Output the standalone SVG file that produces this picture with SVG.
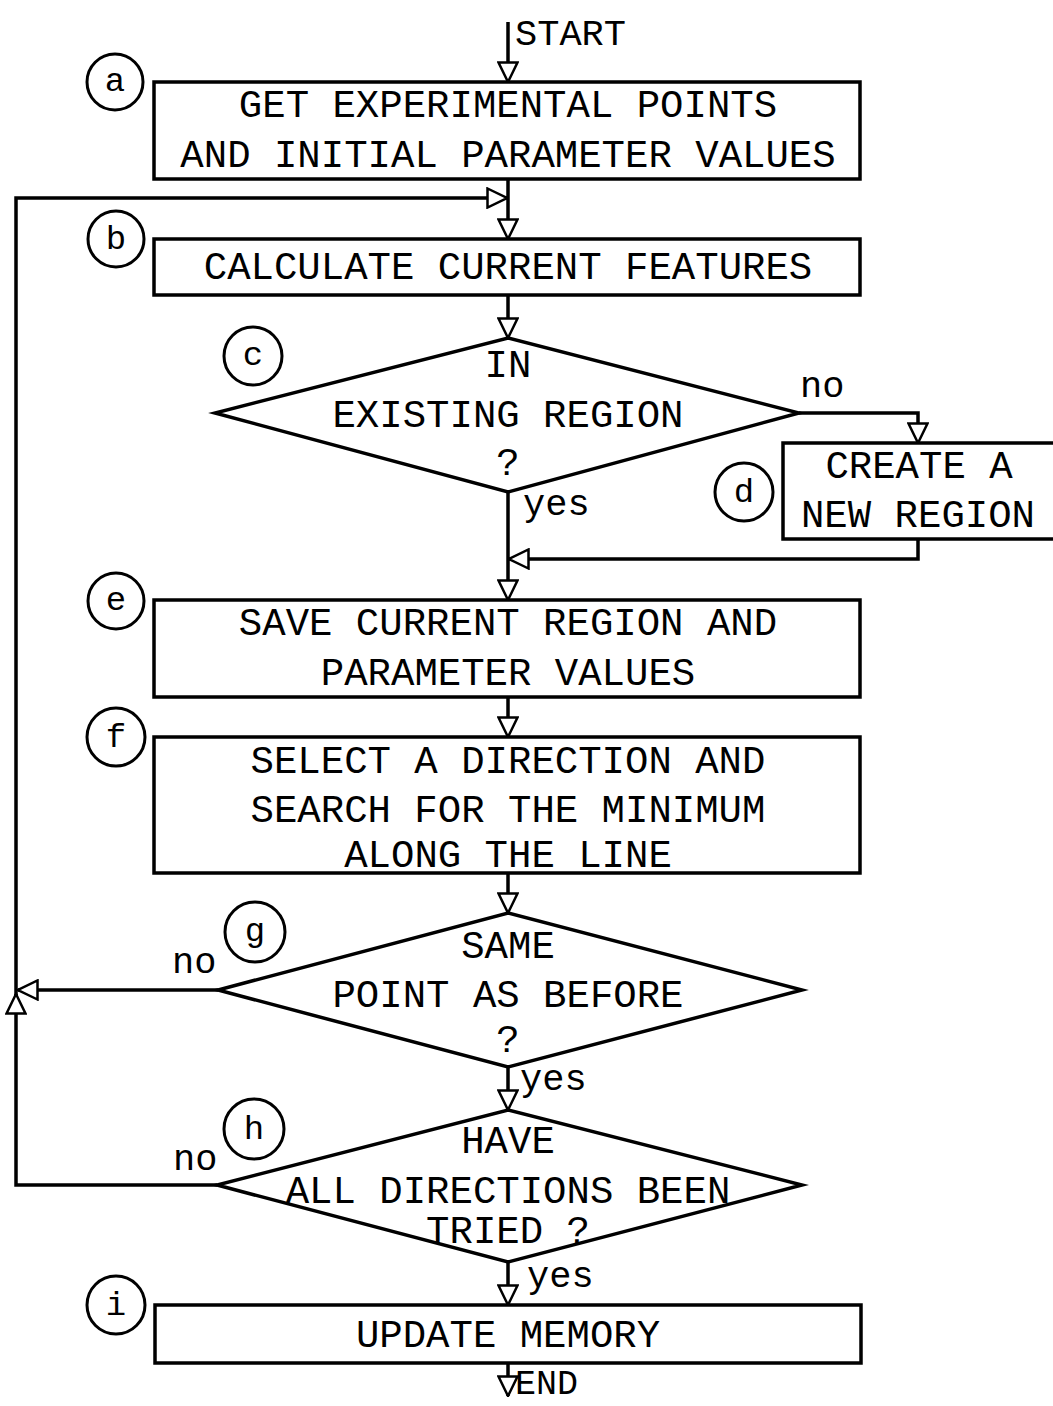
<svg xmlns="http://www.w3.org/2000/svg" width="1053" height="1406" viewBox="0 0 1053 1406">
<style>
.bg{fill:#fff}
.box{fill:#fff;stroke:#000;stroke-width:3.5}
.dia{fill:#fff;stroke:#000;stroke-width:3.5;stroke-linejoin:miter}
.circ{fill:#fff;stroke:#000;stroke-width:3}
.t{font-family:"Liberation Mono","DejaVu Sans Mono",monospace;font-size:39px;fill:#000;text-anchor:middle}
.s{font-family:"Liberation Mono","DejaVu Sans Mono",monospace;font-size:37px;fill:#000}
.c{font-family:"Liberation Mono","DejaVu Sans Mono",monospace;font-size:34px;fill:#000;text-anchor:middle}
.ln{fill:none;stroke:#000;stroke-width:3.5}
</style>
<defs>
<marker id="arr" viewBox="0 0 22 22" refX="21" refY="11" markerWidth="22" markerHeight="22" markerUnits="userSpaceOnUse" orient="auto">
<path d="M1.5,1.5 L21,11 L1.5,20.5 Z" fill="#fff" stroke="#000" stroke-width="2.5"/>
</marker>
</defs>
<rect class="bg" x="0" y="0" width="1053" height="1406"/>

<g id="connectors">
<path class="ln" d="M508,22 V82" marker-end="url(#arr)"/>
<path class="ln" d="M508,179 V239" marker-end="url(#arr)"/>
<path class="ln" d="M508,295 V338" marker-end="url(#arr)"/>
<path class="ln" d="M508,492 V600" marker-end="url(#arr)"/>
<path class="ln" d="M799,413 H918 V443" marker-end="url(#arr)"/>
<path class="ln" d="M918,539 V559 H509" marker-end="url(#arr)"/>
<path class="ln" d="M508,697 V737" marker-end="url(#arr)"/>
<path class="ln" d="M508,873 V913" marker-end="url(#arr)"/>
<path class="ln" d="M508,1067 V1110" marker-end="url(#arr)"/>
<path class="ln" d="M508,1262 V1305" marker-end="url(#arr)"/>
<path class="ln" d="M508,1363 V1396" marker-end="url(#arr)"/>
<path class="ln" d="M217,1185 H16 V994" marker-end="url(#arr)"/>
<path class="ln" d="M16,996 V198 H507" marker-end="url(#arr)"/>
<path class="ln" d="M218,990 H18" marker-end="url(#arr)"/>
<text class="s" x="515" y="45">START</text>
<text class="s" x="515" y="1394" style="font-size:35px">END</text>
<text class="s" x="800" y="397">no</text>
<text class="s" x="523" y="515">yes</text>
<text class="s" x="172" y="973">no</text>
<text class="s" x="520" y="1090">yes</text>
<text class="s" x="173" y="1170">no</text>
<text class="s" x="527" y="1287">yes</text>
</g>

<g id="node-a">
<rect class="box" x="154" y="82" width="706" height="97"/>
<text class="t" x="508" y="117">GET EXPERIMENTAL POINTS</text>
<text class="t" x="508" y="167">AND INITIAL PARAMETER VALUES</text>
<circle class="circ" cx="115" cy="82" r="28"/>
<text class="c" x="115" y="91">a</text>
</g>

<g id="node-b">
<rect class="box" x="154" y="239" width="706" height="56"/>
<text class="t" x="508" y="279">CALCULATE CURRENT FEATURES</text>
<circle class="circ" cx="116" cy="239" r="28"/>
<text class="c" x="116" y="249">b</text>
</g>

<g id="node-c">
<polygon class="dia" points="508,338 799,413 508,492 215,413"/>
<text class="t" x="508" y="377">IN</text>
<text class="t" x="508" y="427">EXISTING REGION</text>
<text class="t" x="508" y="475">?</text>
<circle class="circ" cx="253" cy="356" r="29"/>
<text class="c" x="253" y="365">c</text>
</g>

<g id="node-d">
<rect class="box" x="783" y="443" width="275" height="96"/>
<text class="t" x="919" y="478">CREATE A</text>
<text class="t" x="918" y="527">NEW REGION</text>
<circle class="circ" cx="744" cy="492" r="29"/>
<text class="c" x="744" y="502">d</text>
</g>

<g id="node-e">
<rect class="box" x="154" y="600" width="706" height="97"/>
<text class="t" x="508" y="635">SAVE CURRENT REGION AND</text>
<text class="t" x="508" y="685">PARAMETER VALUES</text>
<circle class="circ" cx="116" cy="601" r="28"/>
<text class="c" x="116" y="610">e</text>
</g>

<g id="node-f">
<rect class="box" x="154" y="737" width="706" height="136"/>
<text class="t" x="508" y="773">SELECT A DIRECTION AND</text>
<text class="t" x="508" y="822">SEARCH FOR THE MINIMUM</text>
<text class="t" x="508" y="867">ALONG THE LINE</text>
<circle class="circ" cx="116" cy="737" r="29"/>
<text class="c" x="116" y="747">f</text>
</g>

<g id="node-g">
<polygon class="dia" points="508,913 802,990 508,1067 218,990"/>
<text class="t" x="508" y="958">SAME</text>
<text class="t" x="508" y="1007">POINT AS BEFORE</text>
<text class="t" x="508" y="1052">?</text>
<circle class="circ" cx="255" cy="932" r="30"/>
<text class="c" x="255" y="941">g</text>
</g>

<g id="node-h">
<polygon class="dia" points="508,1110 802,1185 508,1262 217,1185"/>
<text class="t" x="508" y="1153">HAVE</text>
<text class="t" x="508" y="1203">ALL DIRECTIONS BEEN</text>
<text class="t" x="508" y="1243">TRIED ?</text>
<circle class="circ" cx="254" cy="1129" r="30"/>
<text class="c" x="254" y="1139">h</text>
</g>

<g id="node-i">
<rect class="box" x="155" y="1305" width="706" height="58"/>
<text class="t" x="508" y="1347">UPDATE MEMORY</text>
<circle class="circ" cx="116" cy="1305" r="29"/>
<text class="c" x="116" y="1315">i</text>
</g>
</svg>
